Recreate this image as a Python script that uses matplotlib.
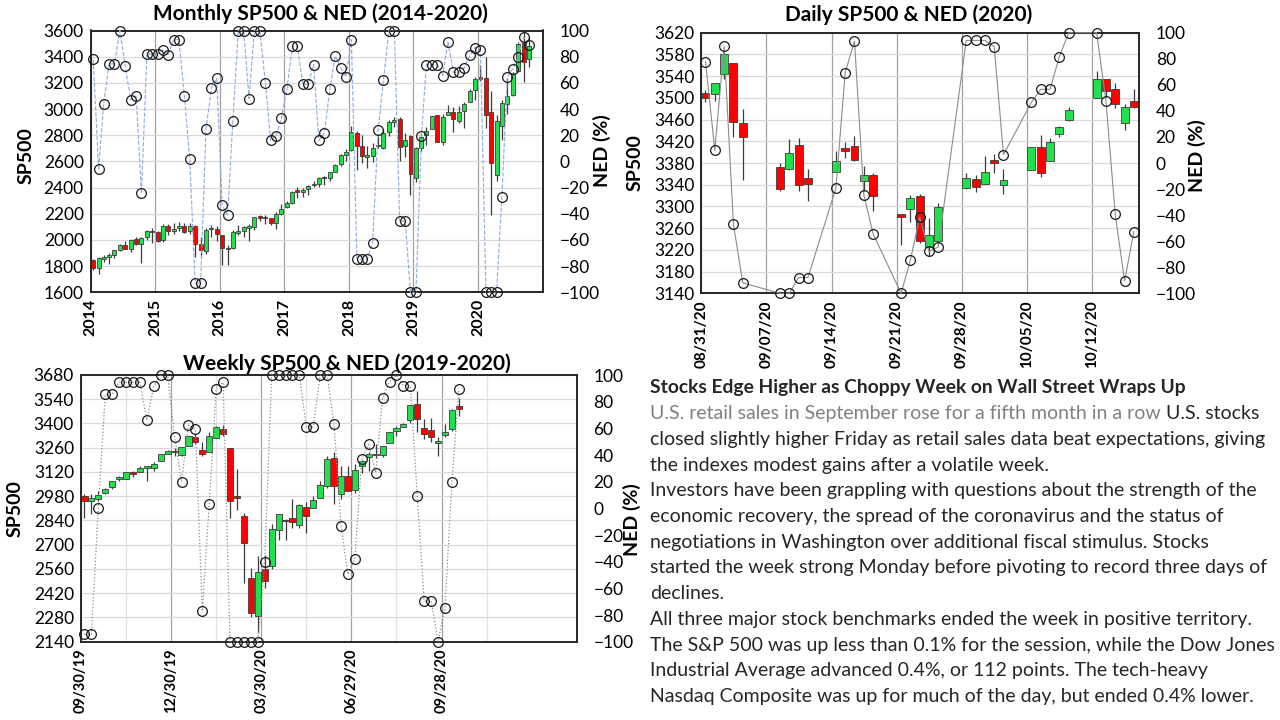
import numpy as np
import pandas as pd
import matplotlib
matplotlib.use('Agg')
import matplotlib.pyplot as plt
import matplotlib.dates as mdates

plt.close('all')
plt.rcParams['font.family'] = ['Lato', 'DejaVu Sans']

# ---------------- monthly data (Jan 2014 - Oct 2020) ----------------
m_start = '2014-01-01'
m_open = [1846, 1783, 1857, 1873, 1884, 1924, 1962, 1930, 2005, 1972, 2019, 2066,
          2059, 1996, 2105, 2067, 2088, 2106, 2067, 2105, 1970, 1919, 2080, 2082,
          2039, 1937, 1937, 2056, 2068, 2094, 2099, 2174, 2171, 2169, 2128, 2201,
          2251, 2286, 2381, 2363, 2389, 2416, 2431, 2477, 2474, 2521, 2583, 2646,
          2684, 2816, 2715, 2634, 2643, 2718, 2705, 2822, 2901, 2926, 2718, 2791,
          2477, 2703, 2798, 2848, 2953, 2751, 2953, 2980, 2910, 2983, 3050, 3144,
          3245, 3236, 2974, 2498, 2870, 3038, 3106, 3289, 3508, 3385]
m_high = [1851, 1867, 1883, 1897, 1924, 1968, 1991, 2005, 2019, 2019, 2076, 2093,
          2072, 2120, 2118, 2126, 2135, 2129, 2133, 2113, 2021, 2094, 2116, 2104,
          2039, 1963, 2073, 2111, 2104, 2121, 2178, 2194, 2188, 2169, 2214, 2278,
          2301, 2371, 2401, 2398, 2418, 2454, 2484, 2491, 2520, 2582, 2657, 2695,
          2873, 2836, 2801, 2718, 2742, 2791, 2848, 2917, 2941, 2940, 2816, 2800,
          2708, 2814, 2861, 2950, 2955, 2965, 3028, 3014, 3022, 3050, 3154, 3248,
          3338, 3394, 3137, 2955, 3068, 3234, 3280, 3515, 3588, 3550]
m_low = [1771, 1738, 1834, 1815, 1862, 1915, 1930, 1905, 1964, 1821, 2002, 1973,
         1988, 1981, 2040, 2048, 2068, 2056, 2044, 1867, 1872, 1893, 2019, 1993,
         1812, 1810, 1931, 2034, 2026, 1992, 2075, 2148, 2120, 2114, 2084, 2188,
         2245, 2272, 2322, 2329, 2344, 2405, 2407, 2418, 2447, 2520, 2566, 2605,
         2683, 2533, 2586, 2553, 2595, 2699, 2698, 2796, 2864, 2604, 2631, 2347,
         2444, 2682, 2723, 2848, 2750, 2728, 2952, 2822, 2892, 2856, 3050, 3070,
         3214, 2855, 2192, 2447, 2766, 2965, 3101, 3280, 3210, 3323]
m_close = [1783, 1859, 1872, 1884, 1924, 1960, 1931, 2003, 1972, 2018, 2068, 2059,
           1995, 2105, 2068, 2086, 2107, 2063, 2104, 1972, 1920, 2079, 2080, 2044,
           1940, 1932, 2060, 2065, 2097, 2099, 2174, 2171, 2168, 2126, 2199, 2239,
           2279, 2364, 2363, 2384, 2412, 2423, 2470, 2472, 2519, 2575, 2648, 2674,
           2824, 2714, 2641, 2648, 2705, 2718, 2816, 2902, 2914, 2712, 2760, 2507,
           2704, 2784, 2834, 2946, 2752, 2942, 2980, 2927, 2977, 3038, 3141, 3231,
           3226, 2954, 2585, 2912, 3044, 3100, 3271, 3500, 3363, 3483]
m_ned = [78, -6, 44, 74.5, 74.5, 100, 73, 47, 50, -24.5, 82, 82,
         82, 85, 81, 93, 93, 50, 2, -93, -93, 24.5, 56, 63.5,
         -33.5, -41, 30.5, 100, 100, 48, 100, 100, 60, 16, 19.5, 33,
         55.5, 88, 88, 59, 59, 74, 16, 22, 55.4, 80.6, 71.5, 64.6,
         93, -74.5, -74.5, -74.5, -62, 24, 62, 100, 100, -45.5, -45.5, -100,
         -100, 19.7, 74, 74, 74, 65.6, 91.3, 68, 68, 71.5, 81, 87,
         85, -100, -100, -100, -27, 64.6, 70.4, 79.6, 95, 89]
m_years = ['2014', '2015', '2016', '2017', '2018', '2019', '2020']

# ---------------- daily data (Aug 31 - Oct 16, 2020) ----------------
d_dates = ['2020-08-31', '2020-09-01', '2020-09-02', '2020-09-03', '2020-09-04',
           '2020-09-08', '2020-09-09', '2020-09-10', '2020-09-11',
           '2020-09-14', '2020-09-15', '2020-09-16', '2020-09-17', '2020-09-18',
           '2020-09-21', '2020-09-22', '2020-09-23', '2020-09-24', '2020-09-25',
           '2020-09-28', '2020-09-29', '2020-09-30', '2020-10-01', '2020-10-02',
           '2020-10-05', '2020-10-06', '2020-10-07', '2020-10-08', '2020-10-09',
           '2020-10-12', '2020-10-13', '2020-10-14', '2020-10-15', '2020-10-16']
d_open = [3509.7, 3507.4, 3543.8, 3564.7, 3453.6, 3371.9, 3369.8, 3412.6, 3352.7,
          3363.6, 3407.7, 3411.2, 3346.9, 3357.4, 3285.6, 3295.8, 3320.1, 3226.1, 3236.7,
          3333.9, 3350.9, 3341.2, 3385.9, 3338.9, 3367.3, 3408.7, 3384.6, 3434.3, 3459.7,
          3500.0, 3534.0, 3515.5, 3453.7, 3493.5]
d_high = [3514.8, 3528.0, 3588.1, 3564.9, 3479.2, 3380.0, 3424.8, 3425.6, 3369.0,
          3402.9, 3419.5, 3428.9, 3375.2, 3362.3, 3285.6, 3320.3, 3323.4, 3278.7, 3306.9,
          3360.7, 3357.9, 3393.6, 3397.2, 3369.1, 3409.6, 3431.6, 3426.3, 3447.3, 3482.3,
          3549.9, 3534.0, 3527.9, 3489.1, 3515.8]
d_low = [3493.2, 3494.6, 3535.2, 3427.4, 3349.6, 3329.3, 3366.8, 3329.3, 3310.5,
         3363.6, 3389.3, 3384.5, 3328.8, 3292.4, 3229.1, 3271.0, 3232.6, 3209.5, 3228.4,
         3332.9, 3327.5, 3340.5, 3361.4, 3323.7, 3367.3, 3354.5, 3384.6, 3428.2, 3458.1,
         3499.6, 3500.9, 3480.6, 3440.9, 3480.5]
d_close = [3500.3, 3526.7, 3580.8, 3455.1, 3427.0, 3331.8, 3399.0, 3339.2, 3341.0,
           3383.5, 3401.2, 3385.5, 3357.0, 3319.5, 3281.1, 3315.6, 3236.9, 3246.6, 3298.5,
           3351.6, 3335.5, 3363.0, 3380.8, 3348.4, 3408.6, 3361.0, 3419.4, 3446.8, 3477.1,
           3534.2, 3511.9, 3488.7, 3483.3, 3483.8]
d_ned = [77.8, 9.8, 89.5, -47, -92, -100, -100, -87.9, -87.9,
         -19.4, 69.3, 93.6, -24.5, -54.4, -100, -74.6, -41.6, -67.9, -64.4,
         94.1, 94.1, 94.1, 89.3, 6.5, 46.6, 56.6, 56.6, 81.6, 100,
         100, 47.6, -39.5, -90.5, -52.7]
d_ticks = ['2020-08-31', '2020-09-07', '2020-09-14', '2020-09-21', '2020-09-28',
           '2020-10-05', '2020-10-12']

# ---------------- weekly data (week of Sep 30 2019 - week of Oct 12 2020) ----------------
w_start = '2019-09-30'
w_open = [2983.5, 2954.0, 2965.8, 2996.5, 3032.1, 3079.0, 3080.3, 3117.9, 3117.4, 3143.9,
          3141.9, 3183.6, 3226.1, 3240.1, 3217.6, 3271.1, 3321.0, 3247.2, 3235.7, 3318.3,
          3369.0, 3257.6, 2974.3, 2863.9, 2508.6, 2290.7, 2559.0, 2578.3, 2782.5, 2845.6,
          2854.7, 2815.0, 2915.5, 2913.9, 2971.6, 3038.8, 3199.9, 2993.8, 3094.4, 3018.6,
          3155.3, 3205.1, 3224.3, 3219.8, 3288.3, 3356.0, 3380.9, 3418.1, 3509.7, 3371.9,
          3363.6, 3285.6, 3334.0, 3367.3, 3500.0]
w_high = [2992.5, 2993.3, 3008.3, 3027.4, 3067.0, 3097.8, 3120.5, 3127.6, 3154.3, 3150.6,
          3176.3, 3225.6, 3247.9, 3258.1, 3267.1, 3329.9, 3337.8, 3293.5, 3348.0, 3385.1,
          3393.5, 3259.8, 3136.7, 2882.6, 2563.0, 2637.0, 2641.4, 2818.6, 2879.2, 2846.1,
          2965.7, 2934.9, 2944.3, 2980.3, 3068.7, 3211.7, 3233.1, 3155.5, 3155.5, 3165.8,
          3186.8, 3235.3, 3279.3, 3272.0, 3352.0, 3387.9, 3400.0, 3509.0, 3588.1, 3425.6,
          3428.9, 3323.4, 3397.2, 3482.3, 3549.9]
w_low = [2855.9, 2874.9, 2952.9, 2991.2, 3023.2, 3066.9, 3078.9, 3091.4, 3117.4, 3070.3,
         3123.8, 3183.6, 3222.2, 3212.0, 3214.6, 3271.1, 3280.7, 3214.7, 3235.7, 3315.2,
         3328.5, 2855.8, 2901.5, 2478.9, 2280.5, 2191.9, 2447.5, 2562.2, 2727.1, 2727.1,
         2797.0, 2797.9, 2766.6, 2913.9, 2969.8, 3025.0, 2936.9, 2965.7, 3008.0, 3000.8,
         3115.7, 3127.7, 3198.6, 3209.2, 3284.5, 3327.7, 3379.3, 3403.6, 3349.6, 3310.5,
         3292.4, 3209.5, 3323.7, 3354.5, 3440.9]
w_close = [2952.0, 2970.3, 2986.2, 3022.6, 3066.9, 3093.1, 3120.5, 3110.3, 3141.0, 3145.9,
           3168.8, 3221.2, 3240.0, 3234.9, 3265.4, 3329.6, 3295.5, 3225.5, 3327.7, 3380.2,
           3337.8, 2954.2, 2972.4, 2711.0, 2304.9, 2541.5, 2488.7, 2789.8, 2874.6, 2836.7,
           2830.7, 2929.8, 2863.7, 2955.5, 3044.3, 3193.9, 3041.3, 3097.7, 3009.1, 3130.0,
           3185.0, 3224.7, 3215.6, 3271.1, 3351.3, 3372.9, 3397.2, 3508.0, 3427.0, 3341.0,
           3319.5, 3298.5, 3348.4, 3477.1, 3483.8]
w_ned = [-94.5, -94.5, 0.5, 85.5, 85.5, 94.5, 94.5, 94.5, 94.5, 66,
         91.5, 100, 100, 53.75, 20, 62.5, 59.5, -77, 3.5, 89.75,
         94.5, -100, -100, -100, -100, -100, -40.5, 100, 100, 100,
         100, 100, 61, 61, 100, 100, 63, -13.25, -49.5, -37.75,
         36.75, 48, 26.75, 82.5, 95, 100, 92, 92, 9.5, -69.5,
         -69.5, -100, -74.5, 20, 89.75]
w_ticks = ['2019-09-30', '2019-12-30', '2020-03-30', '2020-06-29', '2020-09-28']

GREEN = '#22e04b'
RED = '#ff0000'
EDGE = '#3c3c3c'
W, H = 1280, 720


def box(l, t, r, b):
    return [l / W, 1 - b / H, (r - l) / W, (b - t) / H]


def candles(ax, x, o, h, l, c, width, minbody):
    o, h, l, c = np.array(o), np.array(h), np.array(l), np.array(c)
    colors = np.where(c >= o, GREEN, RED)
    ax.vlines(x, l, h, color=EDGE, lw=0.9, zorder=2)
    ax.bar(x, np.maximum(np.abs(c - o), minbody), bottom=np.minimum(o, c), width=width,
           color=colors, edgecolor=EDGE, linewidth=0.6, zorder=3)


def style(ax, ax2, ymin, ymax, ystep, lab_left, lab_right, xsize):
    ax.set_ylim(ymin, ymax)
    ax.set_yticks(np.arange(ymin, ymax + 1, ystep))
    ax2.set_ylim(-100, 100)
    ax2.set_yticks(np.arange(-100, 101, 20))
    ax.grid(axis='y', color='#d9d9d9', lw=0.9)
    ax.grid(axis='x', which='major', color='#a0a0a0', lw=0.9)
    ax.set_axisbelow(True)
    ax.tick_params(axis='y', length=0, labelsize=12.5, pad=5)
    ax.tick_params(axis='x', which='both', length=0, labelsize=xsize, pad=5)
    ax2.tick_params(length=0, labelsize=12.5, pad=12)
    for lab in ax.get_xticklabels():
        lab.set_rotation(90)
        lab.set_fontweight('bold')
    for ax_ in (ax, ax2):
        for sp in ax_.spines.values():
            sp.set_color('#262626')
            sp.set_linewidth(1.2)
    ax.set_ylabel('SP500', fontsize=14, fontweight='bold', va='center', ha='center')
    ax.yaxis.set_label_coords(*lab_left)
    ax2.set_ylabel('NED (%)', fontsize=14, fontweight='bold', va='center', ha='center')
    ax2.yaxis.set_label_coords(*lab_right)


fig = plt.figure(figsize=(12.8, 7.2), dpi=100)

# ---------------- monthly chart ----------------
ax = fig.add_axes(box(90.7, 30.5, 542.7, 292.3))
ax2 = ax.twinx()
mx = mdates.date2num(pd.date_range(m_start, periods=len(m_close), freq='MS')) + 14
candles(ax, mx, m_open, m_high, m_low, m_close, 22, 10)
ax2.plot(mx, m_ned, ls='--', color='#8faadc', lw=0.8, marker='o', ms=7,
         mfc='none', mec='#1a1a1a', mew=0.9, clip_on=False, zorder=4)
ax.set_xlim(mdates.date2num(pd.Timestamp('2014-01-01')), mdates.date2num(pd.Timestamp('2021-01-01')))
ax.set_xticks(mdates.date2num(pd.to_datetime([y + '-01-01' for y in m_years])))
ax.set_xticklabels(m_years)
style(ax, ax2, 1600, 3600, 200, (-0.144, 0.524), (1.13, 0.54), 11.5)
fig.text(320 / W, 1 - 14 / H, 'Monthly SP500 & NED (2014-2020)', ha='center', va='center',
         fontsize=15, fontweight='bold')

# ---------------- daily chart ----------------
ax = fig.add_axes(box(701.3, 32.7, 1139, 293.3))
ax2 = ax.twinx()
dx = mdates.date2num(pd.to_datetime(d_dates)) + 0.45
candles(ax, dx, d_open, d_high, d_low, d_close, 0.85, 2.5)
ax2.plot(dx, d_ned, ls='-', color='#8c8c8c', lw=0.8, marker='o', ms=7,
         mfc='none', mec='#1a1a1a', mew=0.9, clip_on=False, zorder=4)
ax.set_xlim(mdates.date2num(pd.Timestamp('2020-08-31')), mdates.date2num(pd.Timestamp('2020-10-17')))
ax.set_xticks(mdates.date2num(pd.to_datetime(d_ticks)))
ax.set_xticklabels(pd.to_datetime(d_ticks).strftime('%m/%d/%y'))
style(ax, ax2, 3140, 3620, 40, (-0.151, 0.5), (1.132, 0.53), 11)
fig.text(909 / W, 1 - 15 / H, 'Daily SP500 & NED (2020)', ha='center', va='center',
         fontsize=15, fontweight='bold')

# ---------------- weekly chart ----------------
ax = fig.add_axes(box(81, 375, 576.7, 641.7))
ax2 = ax.twinx()
wx = mdates.date2num(pd.date_range(w_start, periods=len(w_close), freq='7D')) + 3.5
candles(ax, wx, w_open, w_high, w_low, w_close, 6.2, 8)
ax2.plot(wx, w_ned, ls=':', color='#8c8c8c', lw=0.9, marker='o', ms=7,
         mfc='none', mec='#1a1a1a', mew=0.9, clip_on=False, zorder=4)
ax.set_xlim(mdates.date2num(pd.Timestamp('2019-09-30')), mdates.date2num(pd.Timestamp('2020-12-28')))
wt = mdates.date2num(pd.to_datetime(w_ticks))
ax.set_xticks(wt)
ax.set_xticks(np.append(wt, wt[-1] + 91) + 45.5, minor=True)
ax.set_xticklabels(pd.to_datetime(w_ticks).strftime('%m/%d/%y'))
ax.grid(axis='x', which='minor', color='#e3e3e3', lw=0.9)
style(ax, ax2, 2140, 3680, 140, (-0.132, 0.5), (1.112, 0.456), 10.5)
fig.text(347 / W, 1 - 364 / H, 'Weekly SP500 & NED (2019-2020)', ha='center', va='center',
         fontsize=15, fontweight='bold')

# ---------------- news text ----------------
news = ['closed slightly higher Friday as retail sales data beat expectations, giving',
        'the indexes modest gains after a volatile week.',
        'Investors have been grappling with questions about the strength of the',
        'economic recovery, the spread of the coronavirus and the status of',
        'negotiations in Washington over additional fiscal stimulus. Stocks',
        'started the week strong Monday before pivoting to record three days of',
        'declines.',
        'All three major stock benchmarks ended the week in positive territory.',
        'The S&P 500 was up less than 0.1% for the session, while the Dow Jones',
        'Industrial Average advanced 0.4%, or 112 points. The tech-heavy',
        'Nasdaq Composite was up for much of the day, but ended 0.4% lower.']
tx = 650 / W
fs = 14.0
fig.text(tx, 1 - 388 / H, 'Stocks Edge Higher as Choppy Week on Wall Street Wraps Up',
         fontsize=13.9, fontweight='bold', color='#262626', va='center')
t1 = fig.text(tx, 1 - (388 + 25.7) / H, 'U.S. retail sales in September rose for a fifth month in a row',
              fontsize=fs, color='#808080', va='center')
ax.annotate(' U.S. stocks', xy=(1, 0.5), xycoords=t1, va='center', ha='left',
            fontsize=fs, color='#262626', annotation_clip=False)
for i, line in enumerate(news):
    fig.text(tx, 1 - (388 + 25.7 * (i + 2)) / H, line, fontsize=fs, color='#262626', va='center')

fig.savefig('out.png', dpi=100, facecolor='white')
